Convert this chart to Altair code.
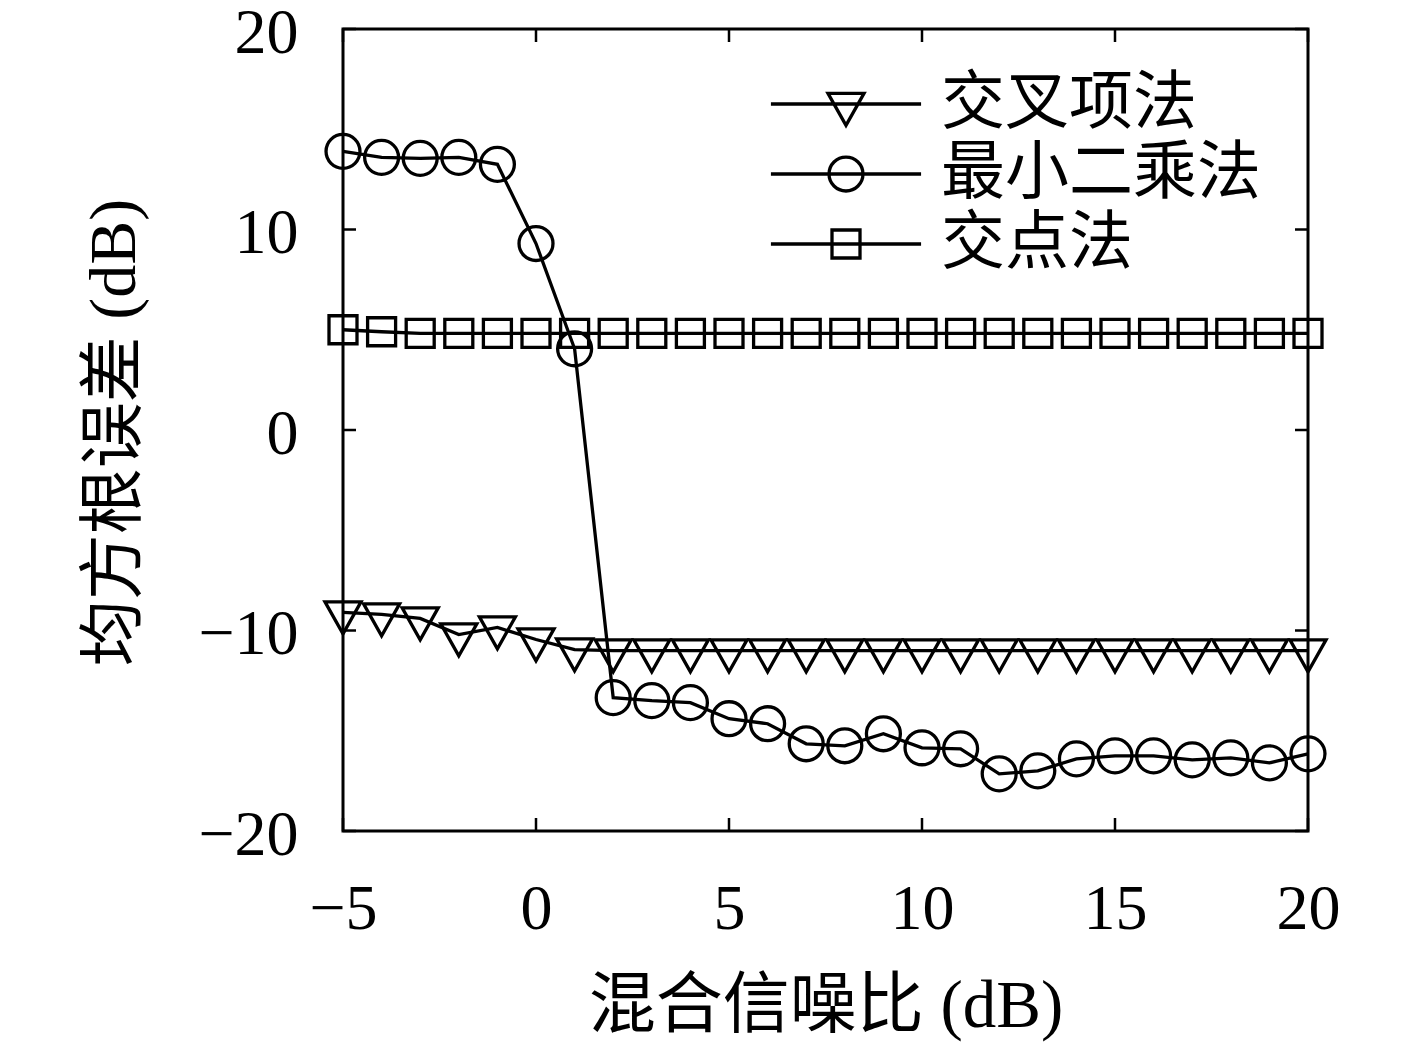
import altair as alt
import pandas as pd

# ---- data ----
snr = [-5, -4, -3, -2, -1, 0, 1, 2, 3, 4, 5, 6, 7, 8, 9, 10, 11, 12, 13, 14, 15, 16, 17, 18, 19, 20]
cross_term = [-9.1, -9.2, -9.4, -10.2, -9.85, -10.45, -10.95, -11.0, -11.0, -11.0, -11.0, -11.0, -11.0,
              -11.0, -11.0, -11.0, -11.0, -11.0, -11.0, -11.0, -11.0, -11.0, -11.0, -11.0, -11.0, -11.0]
least_squares = [13.9, 13.6, 13.55, 13.6, 13.25, 9.3, 4.05, -13.35, -13.5, -13.6, -14.4, -14.65, -15.65,
                 -15.75, -15.15, -15.85, -15.9, -17.15, -17.0, -16.4, -16.25, -16.25, -16.45, -16.35, -16.6, -16.15]
intersection = [5.0, 4.9, 4.82, 4.82, 4.82, 4.82, 4.82, 4.82, 4.82, 4.82, 4.82, 4.82, 4.82,
                4.82, 4.82, 4.82, 4.82, 4.82, 4.82, 4.82, 4.82, 4.82, 4.82, 4.82, 4.82, 4.82]
methods = ["交叉项法", "最小二乘法", "交点法"]
x_ticks = [-5, 0, 5, 10, 15, 20]
y_ticks = [-20, -10, 0, 10, 20]

rows = []
for name, vals in zip(methods, [cross_term, least_squares, intersection]):
    for s, v in zip(snr, vals):
        rows.append({"snr": s, "rmse": v, "method": name})
df = pd.DataFrame(rows)
xt = pd.DataFrame({"snr": x_ticks})
yt = pd.DataFrame({"rmse": y_ticks})

# ---- marker shapes (unit paths, centred on the data point) ----
tri = "M-1.03,-0.61L1.03,-0.61L0,1.22Z"
cir = "M-0.97,0A0.97,0.97,0,1,0,0.97,0A0.97,0.97,0,1,0,-0.97,0Z"
sqr = "M-0.8,-0.8L0.8,-0.8L0.8,0.8L-0.8,0.8Z"
seg = "M-4.29,0L4.29,0"
marker_paths = [tri, cir, sqr]
legend_paths = [seg + tri, seg + cir, seg + sqr]

W, H = 965, 802
num_font = "Liberation Serif"
txt_font = "Liberation Serif, Noto Sans CJK SC"

xaxis = alt.Axis(values=x_ticks, ticks=False, tickSize=0, domain=False, grid=False, labelFlush=False,
                 labelFont=num_font, labelFontSize=64, labelPadding=46, labelColor="black",
                 title="混合信噪比 (dB)", titleFont=txt_font, titleFontSize=67,
                 titleFontWeight="normal", titleColor="black", titleBaseline="top", titleY=142)
yaxis = alt.Axis(values=y_ticks, ticks=False, tickSize=0, domain=False, grid=False, labelFlush=False,
                 labelFont=num_font, labelFontSize=64, labelPadding=45, labelOffset=4, labelColor="black",
                 title="均方根误差 (dB)", titleFont=txt_font, titleFontSize=66,
                 titleFontWeight="normal", titleColor="black", titleAngle=270,
                 titleBaseline="bottom", titleAlign="center", titleX=-195, titleY=403)

X = alt.X("snr:Q", scale=alt.Scale(domain=[-5, 20], nice=False, zero=False), axis=xaxis)
Y = alt.Y("rmse:Q", scale=alt.Scale(domain=[-20, 20], nice=False, zero=False), axis=yaxis)

base = alt.Chart(df).encode(x=X, y=Y)

lines = base.mark_line(color="black", strokeWidth=3.3).encode(detail="method:N")

points = base.mark_point(filled=False, color="black", strokeWidth=3.3, size=1225, opacity=1).encode(
    shape=alt.Shape("method:N", scale=alt.Scale(domain=methods, range=marker_paths), legend=None)
)

legend_layer = base.transform_filter("datum.snr > 100").mark_point(
    filled=False, color="black", strokeWidth=3.3, size=1225, opacity=1
).encode(
    shape=alt.Shape(
        "method:N",
        scale=alt.Scale(domain=methods, range=legend_paths),
        legend=alt.Legend(orient="none", legendX=471, legendY=43, title=None,
                          labelFont=txt_font, labelFontSize=64, labelColor="black",
                          labelOffset=63, labelLimit=0, symbolSize=1225,
                          symbolStrokeWidth=3.3, symbolStrokeColor="black",
                          rowPadding=6, padding=0),
    )
)

tick_bottom = alt.Chart(xt).mark_rule(color="black", strokeWidth=2.5).encode(
    x=X, y=alt.value(H), y2=alt.value(H - 13))
tick_top = alt.Chart(xt).mark_rule(color="black", strokeWidth=2.5).encode(
    x=X, y=alt.value(0), y2=alt.value(13))
tick_left = alt.Chart(yt).mark_rule(color="black", strokeWidth=2.5).encode(
    y=Y, x=alt.value(0), x2=alt.value(13))
tick_right = alt.Chart(yt).mark_rule(color="black", strokeWidth=2.5).encode(
    y=Y, x=alt.value(W), x2=alt.value(W - 13))

chart = alt.layer(
    tick_bottom, tick_top, tick_left, tick_right, lines, points, legend_layer
).resolve_scale(shape="independent").properties(
    width=W, height=H,
    autosize=alt.AutoSizeParams(type="none"),
    padding={"left": 335, "top": 21, "right": 100, "bottom": 222},
    background="white",
).configure_view(stroke="black", strokeWidth=3)

chart.save("out.html", embed_options={"renderer": "svg", "actions": False})
